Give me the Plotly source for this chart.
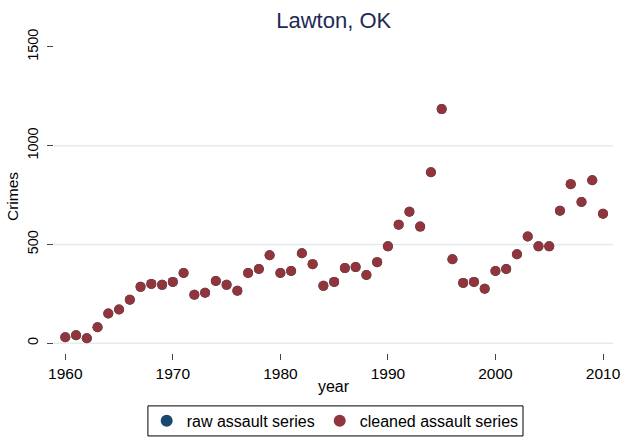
import plotly.graph_objects as go

years = list(range(1960, 2011))
cleaned = [30, 40, 25, 80, 150, 170, 220, 285, 300, 295,
           310, 355, 245, 255, 315, 295, 265, 355, 375, 445,
           355, 365, 455, 400, 290, 310, 380, 385, 345, 410,
           490, 600, 665, 590, 865, 1185, 425, 305, 310, 275,
           365, 375, 450, 540, 490, 490, 670, 805, 715, 825,
           655]
raw = list(cleaned)
xticks = [1960, 1970, 1980, 1990, 2000, 2010]
yticks = [0, 500, 1000, 1500]
grid_vals = [0, 500, 1000]

fig = go.Figure()
fig.add_trace(go.Scatter(x=years, y=raw, mode="markers", name="raw assault series",
                         marker=dict(color="#1a476f", size=10)))
fig.add_trace(go.Scatter(x=years, y=cleaned, mode="markers", name="cleaned assault series",
                         marker=dict(color="#90353b", size=10, line=dict(width=0))))

for g in grid_vals:
    fig.add_shape(type="line", xref="paper", x0=0, x1=1, yref="y", y0=g, y1=g,
                  line=dict(color="#e3eaf0", width=1.5), layer="below")

# legend frame
fig.add_shape(type="rect", xref="paper", yref="paper", x0=0.168, x1=0.839,
              y0=-0.265, y1=-0.169, line=dict(color="#000000", width=1),
              fillcolor="rgba(0,0,0,0)")

fig.update_layout(
    width=625, height=438,
    margin=dict(l=54, r=12, t=40, b=85, autoexpand=False),
    paper_bgcolor="white", plot_bgcolor="white",
    font=dict(family="Liberation Sans, Arial, sans-serif", size=15, color="#000000"),
    title=dict(text="Lawton, OK", x=0.534, xanchor="center", y=0.954, yanchor="middle",
               font=dict(size=22, color="#1e2a55")),
    showlegend=True,
    legend=dict(orientation="h", x=0.503, xanchor="center", y=-0.217, yanchor="middle",
                borderwidth=0, bgcolor="rgba(0,0,0,0)", font=dict(size=16),
                itemsizing="constant", itemwidth=30, traceorder="normal"),
    xaxis=dict(range=[1958.95, 2010.93], tickvals=xticks, ticks="outside", ticklen=6,
               tickcolor="#444", showgrid=False, zeroline=False, showline=False,
               automargin=False,
               title=dict(text="year", font=dict(size=16), standoff=0),
               tickfont=dict(size=15.5)),
    yaxis=dict(range=[-50, 1535], tickvals=yticks, ticks="outside", ticklen=6,
               tickcolor="#444", showgrid=False, zeroline=False, showline=False,
               automargin=False, tickangle=-90, ticklabelstandoff=3,
               title=dict(text="Crimes", font=dict(size=15.5), standoff=2),
               tickfont=dict(size=14.5)),
)

fig.write_html("out.html", config={"displayModeBar": False},
               post_script="document.body.style.margin='0';")
